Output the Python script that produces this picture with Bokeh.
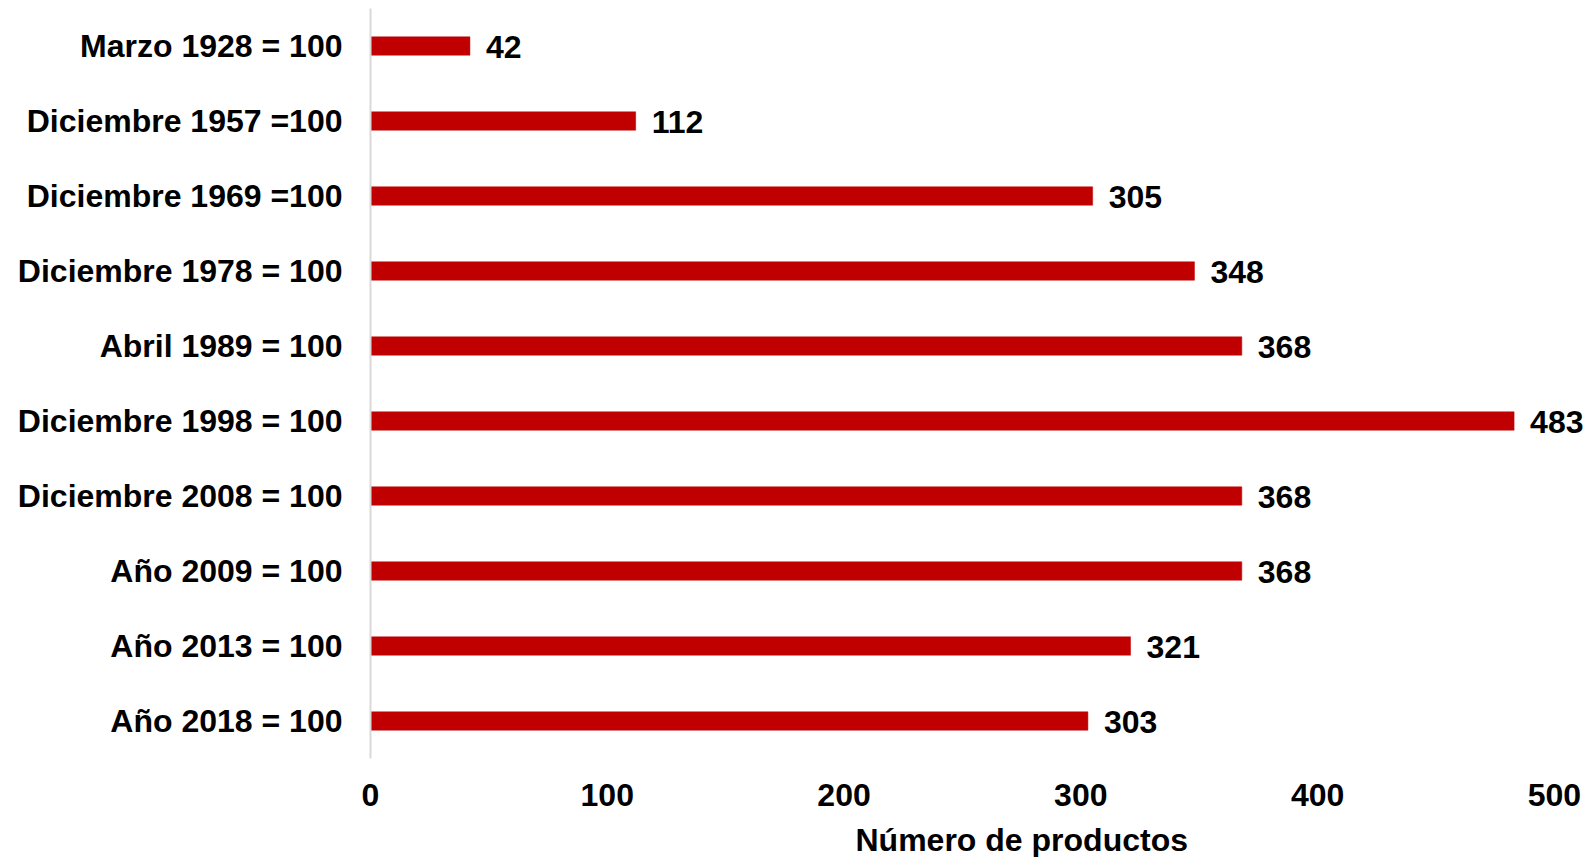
from bokeh.plotting import figure
from bokeh.models import ColumnDataSource, Range1d, FactorRange, LabelSet, Title
from bokeh.core.properties import value
from bokeh.embed import file_html
from bokeh.resources import INLINE

categories = ["Marzo 1928 = 100", "Diciembre 1957 =100", "Diciembre 1969 =100",
              "Diciembre 1978 = 100", "Abril 1989 = 100", "Diciembre 1998 = 100",
              "Diciembre 2008 = 100", "Año 2009 = 100", "Año 2013 = 100", "Año 2018 = 100"]
values = [42, 112, 305, 348, 368, 483, 368, 368, 321, 303]
x_ticks = [0, 100, 200, 300, 400, 500]
x_title = "Número de productos"

FONT = "Liberation Sans"
FS = "32px"

src = ColumnDataSource(dict(cat=categories, val=values, lab=[str(v) for v in values]))

p = figure(width=1587, height=878, output_backend="svg", toolbar_location=None,
           y_range=FactorRange(factors=list(reversed(categories))),
           x_range=Range1d(0, 514),
           min_border_left=370, min_border_right=0, min_border_top=8, min_border_bottom=120)
p.outline_line_color = None
p.xgrid.grid_line_color = None
p.ygrid.grid_line_color = None

p.hbar(y="cat", right="val", left=0, height=0.245, source=src,
       fill_color="#C00000", line_color="#C00000", line_width=0.5)

labels = LabelSet(x="val", y="cat", text="lab", source=src, x_offset=16, y_offset=-1,
                  text_font=value(FONT), text_font_size=value(FS), text_font_style="bold",
                  text_baseline="middle", text_align="left", text_color="#000000")
p.add_layout(labels)

p.xaxis.ticker = x_ticks
p.xaxis.axis_line_color = None
p.xaxis.major_tick_line_color = None
p.xaxis.minor_tick_line_color = None
p.xaxis.major_label_standoff = 19
p.xaxis.major_label_text_font = FONT
p.xaxis.major_label_text_font_size = FS
p.xaxis.major_label_text_font_style = "bold"
p.xaxis.major_label_text_color = "#000000"

p.yaxis.axis_line_color = "#D9D9D9"
p.yaxis.axis_line_width = 2
p.yaxis.major_tick_line_color = None
p.yaxis.minor_tick_line_color = None
p.yaxis.major_label_standoff = 22
p.yaxis.major_label_text_font = FONT
p.yaxis.major_label_text_font_size = FS
p.yaxis.major_label_text_font_style = "bold"
p.yaxis.major_label_text_color = "#000000"

title = Title(text=x_title, align="left", offset=485, text_font=FONT,
              text_font_size=FS, text_font_style="bold", text_color="#000000",
              standoff=27, vertical_align="top")
p.add_layout(title, "below")

open("out.html", "w").write(file_html(p, INLINE))
